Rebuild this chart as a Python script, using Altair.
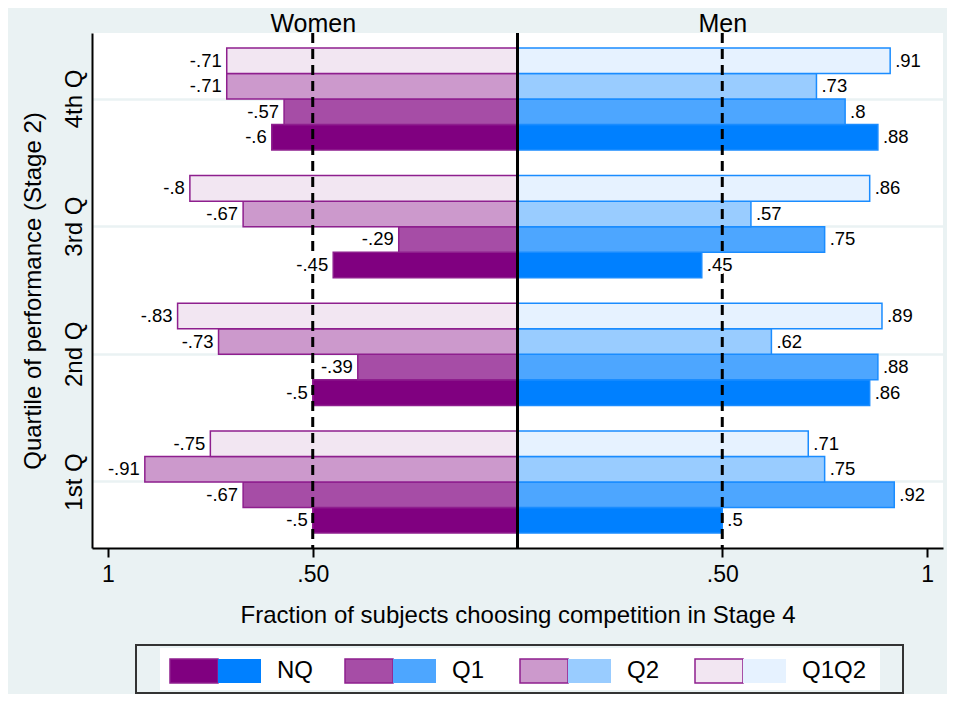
import altair as alt
import pandas as pd

# ---------------- data ----------------
quartiles = ["4th Q", "3rd Q", "2nd Q", "1st Q"]          # top to bottom
series = ["NQ", "Q1", "Q2", "Q1Q2"]
series_top_down = ["Q1Q2", "Q2", "Q1", "NQ"]

# values per quartile, in the order of `series`
women_4th = [-0.60, -0.57, -0.71, -0.71]
women_3rd = [-0.45, -0.29, -0.67, -0.80]
women_2nd = [-0.50, -0.39, -0.73, -0.83]
women_1st = [-0.50, -0.67, -0.91, -0.75]

men_4th = [0.88, 0.80, 0.73, 0.91]
men_3rd = [0.45, 0.75, 0.57, 0.86]
men_2nd = [0.86, 0.88, 0.62, 0.89]
men_1st = [0.50, 0.92, 0.75, 0.71]

women_vals = [women_4th, women_3rd, women_2nd, women_1st]
men_vals = [men_4th, men_3rd, men_2nd, men_1st]

women_colors = ["#800080", "#A64DA6", "#CC99CC", "#F2E6F2"]
men_colors = ["#0080FF", "#4DA6FF", "#99CCFF", "#E6F2FF"]
women_edge = "#8E1F8E"
men_edge = "#1A8CFF"

x_ticks = [-1, -0.5, 0.5, 1]
x_tick_labels = ["1", ".50", ".50", "1"]
refs = [-0.5, 0.5]
headers = ["Women", "Men"]
center_ref = [0]

BG = "#EAF2F3"
FONT = "Liberation Sans"


def fmt(v):
    return f"{v:g}".replace("0.", ".")


rows = []
for q, wv, mv in zip(quartiles, women_vals, men_vals):
    for s, w, m in zip(series, wv, mv):
        rows.append(dict(quartile=q, series=s, sex="Women", value=w,
                         key="Women-" + s, label=fmt(w)))
        rows.append(dict(quartile=q, series=s, sex="Men", value=m,
                         key="Men-" + s, label=fmt(m)))
df = pd.DataFrame(rows)

keys = ["Women-" + s for s in series] + ["Men-" + s for s in series]
color_range = women_colors + men_colors

legend_rows = []
for s in series:
    legend_rows.append(dict(series=s, sex="Women", key="Women-" + s))
    legend_rows.append(dict(series=s, sex="Men", key="Men-" + s))
legend_df = pd.DataFrame(legend_rows)

tick_expr = " : ".join(
    [f"datum.value == {v} ? '{l}'" for v, l in zip(x_ticks, x_tick_labels)] + ["''"]
)
head_expr = f"datum.value < 0 ? '{headers[0]}' : '{headers[1]}'"

xscale = alt.Scale(domain=[-1.039, 1.039], nice=False, zero=False)
yenc = alt.Y(
    "quartile:N", sort=quartiles,
    title="Quartile of performance (Stage 2)",
    scale=alt.Scale(paddingInner=0.2, paddingOuter=0.117),
    axis=alt.Axis(
        labelAngle=-90, labelAlign="center", labelBaseline="bottom",
        labelFontSize=24, labelPadding=6, ticks=False,
        domainColor="black", domainWidth=2,
        grid=True, gridColor=BG, gridWidth=2.5, bandPosition=0.5,
        titleFontSize=24, titlePadding=17,
    ),
)
yoff = alt.YOffset("series:N", sort=series_top_down,
                   scale=alt.Scale(paddingInner=0, paddingOuter=0))
color = alt.Color("key:N", scale=alt.Scale(domain=keys, range=color_range), legend=None)
stroke = alt.Stroke("sex:N", scale=alt.Scale(domain=["Women", "Men"],
                                             range=[women_edge, men_edge]), legend=None)

bars = alt.Chart(df).mark_bar(strokeWidth=1.5).encode(
    x=alt.X("value:Q", scale=xscale,
            title="Fraction of subjects choosing competition in Stage 4",
            axis=alt.Axis(values=x_ticks, labelExpr=tick_expr, grid=False,
                          domainColor="black", domainWidth=2,
                          tickColor="black", tickWidth=2, tickSize=9,
                          labelFontSize=23, labelPadding=6,
                          titleFontSize=24, titlePadding=17)),
    x2=alt.datum(0),
    y=yenc, yOffset=yoff, color=color, stroke=stroke,
)

dashed = alt.Chart(pd.DataFrame({"ref": refs})).mark_rule(
    color="black", strokeWidth=3, strokeDash=[10, 6]
).encode(
    x=alt.X("ref:Q", scale=xscale,
            axis=alt.Axis(orient="top", values=refs, labelExpr=head_expr,
                          domain=False, ticks=False, grid=False, title=None,
                          labelFontSize=25, labelPadding=2,
                          labelBaseline="alphabetic")),
)

center = alt.Chart(pd.DataFrame({"c": center_ref})).mark_rule(
    color="black", strokeWidth=3
).encode(x=alt.X("c:Q", scale=xscale, axis=None))


def value_text(sex, align, dx, halo):
    props = dict(align=align, baseline="middle", dx=dx, fontSize=18.5, font=FONT)
    if halo:
        props.update(color="white", stroke="white", strokeWidth=6, strokeJoin="miter")
    else:
        props.update(color="black")
    return alt.Chart(df).transform_filter(f"datum.sex == '{sex}'").mark_text(**props).encode(
        x=alt.X("value:Q", scale=xscale, axis=None), y=yenc, yOffset=yoff, text="label:N")


wtext_halo = value_text("Women", "right", -5, True)
mtext_halo = value_text("Men", "left", 5, True)
wtext = value_text("Women", "right", -5, False)
mtext = value_text("Men", "left", 5, False)

main = alt.layer(bars, dashed, center, wtext_halo, mtext_halo, wtext, mtext).resolve_axis(
    x="independent")

# ---------------- legend ----------------
one = pd.DataFrame({"a": [0]})
frame_outer = alt.Chart(one).mark_rect(fill=BG, stroke="#333333", strokeWidth=2).encode(
    x=alt.value(44), x2=alt.value(811), y=alt.value(612), y2=alt.value(660))
frame_inner = alt.Chart(one).mark_rect(fill="white").encode(
    x=alt.value(68), x2=alt.value(788), y=alt.value(615), y2=alt.value(657))

lx = alt.X("series:N", sort=series, axis=None,
           scale=alt.Scale(type="point", range=[126, 651], padding=0))

sw_w = alt.Chart(legend_df).transform_filter("datum.sex == 'Women'").mark_point(
    shape="M-1,-0.5L1,-0.5L1,0.5L-1,0.5Z", size=2304, filled=True, opacity=1,
    strokeWidth=1.5, xOffset=-24
).encode(x=lx, y=alt.value(638), color=color, stroke=stroke)

sw_m = alt.Chart(legend_df).transform_filter("datum.sex == 'Men'").mark_point(
    shape="M-1,-0.558L1,-0.558L1,0.558L-1,0.558Z", size=1849, filled=True, opacity=1,
    strokeWidth=0, xOffset=21.5
).encode(x=lx, y=alt.value(638), color=color)

lab = alt.Chart(legend_df).transform_filter("datum.sex == 'Women'").mark_text(
    align="left", baseline="middle", fontSize=24, font=FONT, color="black", xOffset=59
).encode(x=lx, y=alt.value(638), text="series:N")

legend = alt.layer(frame_outer, frame_inner, sw_w, sw_m, lab)

chart = alt.layer(main, legend).resolve_scale(x="independent").resolve_axis(
    x="independent"
).properties(
    width=851, height=515,
    autosize=alt.AutoSizeParams(type="none"),
    padding={"left": 84, "top": 25, "right": 4, "bottom": 146},
    background=BG,
).configure_view(
    fill="white", stroke=None
).configure_axis(
    labelFont=FONT, titleFont=FONT, labelColor="black", titleColor="black",
    titleFontWeight="normal",
)

chart.save("out.html", embed_options={"renderer": "svg", "actions": False})
